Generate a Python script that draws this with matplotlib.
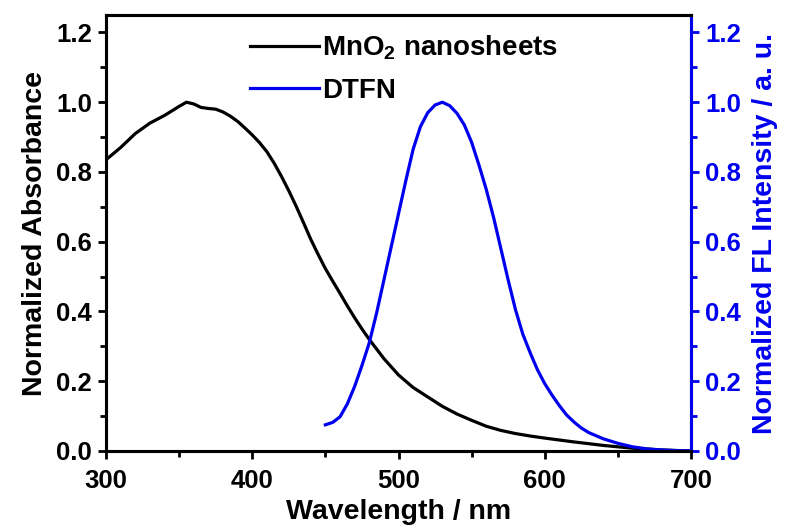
import matplotlib
matplotlib.use("Agg")
import matplotlib.pyplot as plt
from matplotlib.ticker import MultipleLocator

# MnO2 nanosheets absorbance (normalized)
abs_nm = [300, 310, 320, 330, 340, 345, 350, 355, 360, 365, 370, 375, 380, 385,
          390, 395, 400, 405, 410, 415, 420, 425, 430, 435, 440, 445, 450, 455,
          460, 465, 470, 475, 480, 490, 500, 510, 520, 530, 540, 550, 560, 570,
          580, 590, 600, 620, 640, 660, 680, 700]
abs_val = [0.835, 0.870, 0.910, 0.940, 0.962, 0.975, 0.988, 1.000, 0.995, 0.985,
           0.982, 0.980, 0.972, 0.960, 0.945, 0.926, 0.906, 0.884, 0.858, 0.825,
           0.787, 0.746, 0.702, 0.655, 0.607, 0.564, 0.523, 0.487, 0.452, 0.416,
           0.382, 0.350, 0.320, 0.265, 0.218, 0.182, 0.155, 0.128, 0.106, 0.088,
           0.071, 0.059, 0.050, 0.043, 0.037, 0.026, 0.016, 0.008, 0.003, 0.000]

# DTFN fluorescence (normalized)
fl_nm = [450, 455, 460, 465, 470, 475, 480, 485, 490, 495, 500, 505, 510, 515,
         520, 525, 530, 535, 540, 545, 550, 555, 560, 565, 570, 575, 580, 585,
         590, 595, 600, 605, 610, 615, 620, 625, 630, 640, 650, 660, 670, 680,
         690, 700]
fl_val = [0.075, 0.082, 0.098, 0.135, 0.185, 0.245, 0.310, 0.395, 0.490, 0.585,
          0.680, 0.775, 0.865, 0.930, 0.970, 0.992, 1.000, 0.990, 0.968, 0.935,
          0.885, 0.820, 0.750, 0.670, 0.580, 0.490, 0.405, 0.335, 0.282, 0.233,
          0.193, 0.160, 0.130, 0.103, 0.083, 0.066, 0.053, 0.035, 0.022, 0.012,
          0.006, 0.003, 0.001, 0.000]

plt.rcParams['font.family'] = ['Liberation Sans', 'DejaVu Sans']
plt.rcParams['font.weight'] = 'bold'
plt.rcParams['mathtext.default'] = 'regular'

blue = '#0000ee'

fig = plt.figure(figsize=(7.95, 5.3), dpi=100)
ax = fig.add_axes([106 / 795, 79 / 530, 585 / 795, 436 / 530])
ax2 = ax.twinx()

l1, = ax.plot(abs_nm, abs_val, color='black', lw=2.3, label=r'MnO$_2$ nanosheets')
l2, = ax2.plot(fl_nm, fl_val, color=blue, lw=2.3, label='DTFN')

ax.set_xlim(300, 700)
ax.set_ylim(0, 1.25)
ax2.set_ylim(0, 1.25)

ax.xaxis.set_major_locator(MultipleLocator(100))
ax.xaxis.set_minor_locator(MultipleLocator(50))
for a in (ax, ax2):
    a.yaxis.set_major_locator(MultipleLocator(0.2))
    a.yaxis.set_minor_locator(MultipleLocator(0.1))
    a.yaxis.set_major_formatter(plt.FormatStrFormatter('%.1f'))

ax.tick_params(which='major', direction='out', length=6, width=2, labelsize=18.5,
               pad=4)
ax.tick_params(axis='x', which='major', pad=7)
ax.tick_params(which='minor', direction='out', length=4, width=2)
ax.tick_params(top=False, right=False)
ax.tick_params(which='minor', top=False, right=False)
ax2.tick_params(which='major', direction='out', length=6, width=2, labelsize=18.5,
                colors=blue, pad=4)
ax2.tick_params(which='minor', direction='out', length=4, width=2, colors=blue)

for s in ax.spines.values():
    s.set_linewidth(2.2)
for s in ax2.spines.values():
    s.set_linewidth(2.2)
ax2.spines['right'].set_color(blue)

ax.set_xlabel('Wavelength / nm', fontsize=20.5, fontweight='bold', labelpad=4)
ax.set_ylabel('Normalized Absorbance', fontsize=20.5, fontweight='bold', labelpad=6)
ax2.set_ylabel('Normalized FL Intensity / a. u.', fontsize=20.5, fontweight='bold',
               color=blue, labelpad=8)

ax.legend(handles=[l1, l2], loc='upper left', bbox_to_anchor=(0.246, 0.957),
          frameon=False, handlelength=2.5, handletextpad=0.1,
          labelspacing=0.55, borderpad=0, borderaxespad=0,
          prop={'weight': 'bold', 'size': 20})

fig.savefig('out.png', dpi=100)
